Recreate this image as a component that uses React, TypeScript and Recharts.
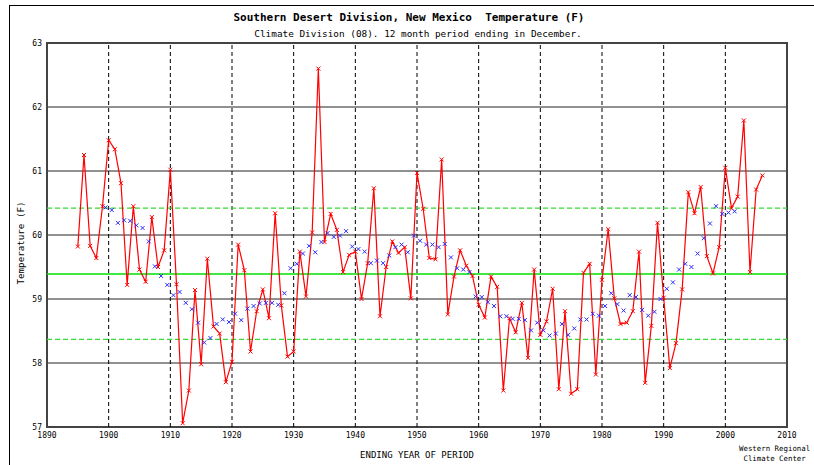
import React from 'react';
import {
  ComposedChart,
  Line,
  Scatter,
  XAxis,
  YAxis,
  CartesianGrid,
  ReferenceLine,
  ReferenceArea,
} from 'recharts';

const FONT = '"DejaVu Sans Mono", "Liberation Mono", monospace';

// Annual mean temperature (F), one value per year starting 1895
const startYear = 1895;
const annualTemps = [
  59.82, 61.25, 59.83, 59.64, 60.45, 61.48, 61.34, 60.81, 59.22, 60.45, // 1895-1904
  59.46, 59.27, 60.28, 59.5, 59.76, 61.02, 59.23, 57.06, 57.57, 59.14, // 1905-1914
  57.98, 59.63, 58.57, 58.46, 57.7, 58.02, 59.85, 59.45, 58.18, 58.81, // 1915-1924
  59.15, 58.7, 60.34, 58.9, 58.1, 58.18, 59.74, 59.04, 60.04, 62.6, // 1925-1934
  59.89, 60.33, 60.08, 59.42, 59.69, 59.74, 59.0, 59.56, 60.73, 58.73, // 1935-1944
  59.5, 59.9, 59.72, 59.81, 59.01, 60.97, 60.41, 59.64, 59.62, 61.18, // 1945-1954
  58.76, 59.35, 59.76, 59.52, 59.36, 58.91, 58.71, 59.35, 59.19, 57.57, // 1955-1964
  58.7, 58.48, 58.94, 58.08, 59.46, 58.44, 58.65, 59.16, 57.59, 58.81, // 1965-1974
  57.52, 57.59, 59.41, 59.55, 57.82, 59.3, 60.09, 59.01, 58.61, 58.63, // 1975-1984
  58.81, 59.74, 57.69, 58.58, 60.19, 59.02, 57.92, 58.31, 59.15, 60.67, // 1985-1994
  60.34, 60.75, 59.67, 59.4, 59.81, 61.05, 60.42, 60.6, 61.79, 59.42, // 1995-2004
  60.71, 60.93, // 2005-2006
];

// 10-year running mean (blue x), first window ends in 1904
const maFirstEndYear = 1904;
const maWindow = 10;
const runningMean = [
  60.43, 60.39, 60.19, 60.23, 60.22, 60.15, 60.11, 59.9, 59.51, 59.36,
  59.22, 59.06, 59.11, 58.94, 58.84, 58.63, 58.32, 58.39, 58.61, 58.68,
  58.64, 58.77, 58.67, 58.85, 58.89, 58.93, 58.94, 58.94, 58.91, 59.09,
  59.48, 59.55, 59.71, 59.83, 59.73, 59.89, 60.03, 59.97, 59.99, 60.06,
  59.82, 59.78, 59.74, 59.56, 59.6, 59.56, 59.68, 59.81, 59.85, 59.73,
  59.99, 59.91, 59.85, 59.85, 59.81, 59.86, 59.65, 59.48, 59.46, 59.42,
  59.04, 59.03, 58.95, 58.89, 58.73, 58.73, 58.69, 58.69, 58.67, 58.51,
  58.63, 58.51, 58.43, 58.46, 58.61, 58.44, 58.54, 58.68, 58.68, 58.77,
  58.74, 58.89, 59.09, 58.92, 58.82, 59.06, 59.03, 58.83, 58.74, 58.8,
  59.0, 59.16, 59.26, 59.46, 59.55, 59.5, 59.71, 59.95, 60.18, 60.45,
  60.33, 60.35, 60.37,
];

// long-term mean and +/- one standard deviation
const meanTemp = 59.39;
const plusOneSd = 60.42;
const minusOneSd = 58.37;

const xTicks = [1890, 1900, 1910, 1920, 1930, 1940, 1950, 1960, 1970, 1980, 1990, 2000, 2010];
const yTicks = [57, 58, 59, 60, 61, 62, 63];

const annualRows = annualTemps.map((temp, i) => ({ year: startYear + i, temp }));
// running mean is drawn at the centre of its window
const meanRows = runningMean.map((ma, i) => ({
  year: maFirstEndYear + i - (maWindow - 1) / 2,
  ma,
}));

const RedMark = (props: any) => {
  const { cx, cy, index } = props;
  if (cx == null || cy == null) return <g key={`r-${index}`} />;
  return (
    <path
      key={`r-${index}`}
      d={`M${cx - 2},${cy - 2}L${cx + 2},${cy + 2}M${cx + 2},${cy - 2}L${cx - 2},${cy + 2}`}
      stroke="#ff0000"
      strokeWidth={1}
      fill="none"
    />
  );
};

const BlueMark = (props: any) => {
  const { cx, cy } = props;
  if (cx == null || cy == null) return <g />;
  return (
    <path
      d={`M${cx - 2},${cy - 2}L${cx + 2},${cy + 2}M${cx + 2},${cy - 2}L${cx - 2},${cy + 2}`}
      stroke="#2a2aff"
      strokeWidth={1}
      fill="none"
    />
  );
};

const tickStyle = { fontSize: 8, fill: '#000', fontFamily: FONT };

export default function App() {
  return (
    <div
      style={{
        position: 'absolute',
        left: 0,
        top: 0,
        width: 814,
        height: 465,
        background: '#fff',
        overflow: 'hidden',
        fontFamily: FONT,
      }}
    >
      {/* outer frame */}
      <div
        style={{
          position: 'absolute',
          left: 9,
          top: 5,
          width: 900,
          height: 600,
          borderLeft: '1px solid #000',
          borderTop: '1px solid #000',
        }}
      />
      <div
        style={{
          position: 'absolute',
          left: 209,
          top: 11,
          width: 400,
          textAlign: 'center',
          fontSize: 11,
          fontWeight: 'bold',
          whiteSpace: 'pre',
          lineHeight: '14px',
        }}
      >
        {'Southern Desert Division, New Mexico  Temperature (F)'}
      </div>
      <div
        style={{
          position: 'absolute',
          left: 218,
          top: 28,
          width: 400,
          textAlign: 'center',
          fontSize: 9.4,
          whiteSpace: 'pre',
          lineHeight: '12px',
        }}
      >
        Climate Division (08). 12 month period ending in December.
      </div>
      <div
        style={{
          position: 'absolute',
          left: 20,
          top: 243,
          transform: 'translate(-50%, -50%) rotate(-90deg)',
          fontSize: 9.2,
          whiteSpace: 'pre',
          lineHeight: '11px',
        }}
      >
        Temperature (F)
      </div>
      <div
        style={{
          position: 'absolute',
          left: 217,
          top: 450,
          width: 400,
          textAlign: 'center',
          fontSize: 9,
          lineHeight: '11px',
        }}
      >
        ENDING YEAR OF PERIOD
      </div>
      <div
        style={{
          position: 'absolute',
          left: 739,
          top: 444,
          fontSize: 7.4,
          lineHeight: '10px',
          textAlign: 'center',
          whiteSpace: 'pre',
        }}
      >
        {'Western Regional\nClimate Center'}
      </div>
      <div style={{ position: 'absolute', left: 0, top: 0 }}>
        <ComposedChart
          width={814}
          height={465}
          data={annualRows}
          margin={{ top: 43, right: 27, bottom: 0, left: 0 }}
        >
          <CartesianGrid vertical={false} stroke="#222" strokeWidth={1} />
          <XAxis
            dataKey="year"
            type="number"
            domain={[1890, 2010]}
            ticks={xTicks}
            interval={0}
            tickLine={false}
            axisLine={false}
            tickSize={0}
            tickMargin={5}
            height={38}
            tick={tickStyle}
            allowDataOverflow
          />
          <YAxis
            type="number"
            domain={[57, 63]}
            ticks={yTicks}
            interval={0}
            width={47}
            tickLine={false}
            axisLine={false}
            tickSize={0}
            tickMargin={5}
            tick={tickStyle}
            allowDataOverflow
          />
          {xTicks.slice(1, -1).map((yr) => (
            <ReferenceLine key={yr} x={yr} stroke="#000" strokeWidth={1} strokeDasharray="4 3" />
          ))}
          <ReferenceLine y={plusOneSd} stroke="#33dd33" strokeWidth={1.2} strokeDasharray="5 3" />
          <ReferenceLine y={minusOneSd} stroke="#33dd33" strokeWidth={1.2} strokeDasharray="5 3" />
          <ReferenceLine y={meanTemp} stroke="#00e000" strokeWidth={1.5} />
          <ReferenceArea
            x1={1890}
            x2={2010}
            y1={57}
            y2={63}
            fill="none"
            stroke="#444"
            strokeWidth={2}
            ifOverflow="visible"
          />
          <Line
            type="linear"
            dataKey="temp"
            stroke="#ff0000"
            strokeWidth={1.2}
            dot={RedMark}
            activeDot={false}
            isAnimationActive={false}
          />
          <Scatter data={meanRows} dataKey="ma" shape={BlueMark} isAnimationActive={false} />
        </ComposedChart>
      </div>
    </div>
  );
}
